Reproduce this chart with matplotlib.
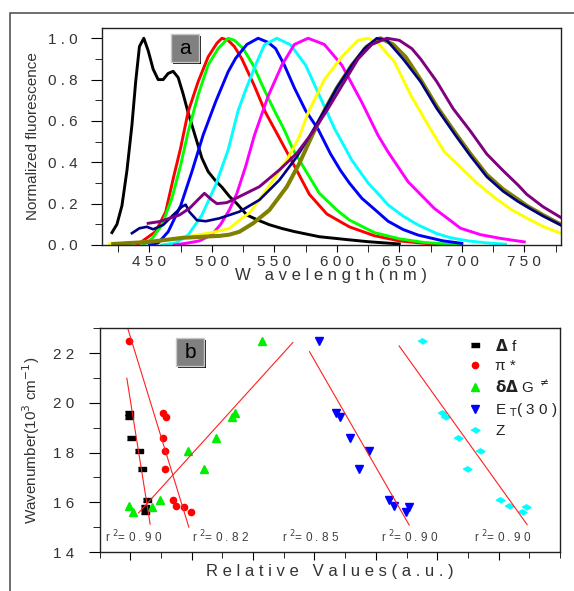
import matplotlib
matplotlib.use("Agg")
import matplotlib.pyplot as plt
from matplotlib.patches import Rectangle
from matplotlib.ticker import MultipleLocator, FuncFormatter, FixedLocator

plt.rcParams["font.family"] = ["Liberation Sans", "DejaVu Sans"]
plt.rcParams["mathtext.fontset"] = "dejavusans"

# ---- panel a: normalized emission spectra (wavelength nm, intensity) ----
black_wl = [420, 424, 428, 432, 436, 439, 442, 445.5, 449, 453, 457, 461, 465, 469, 473,
            477, 481, 487, 492, 497, 503, 508, 514, 520, 528, 537, 546, 556, 566, 586, 610, 625, 650]
black_y = [0.06, 0.10, 0.19, 0.36, 0.58, 0.79, 0.96, 1.0, 0.94, 0.85, 0.80, 0.80, 0.83, 0.84, 0.81,
           0.73, 0.64, 0.52, 0.42, 0.355, 0.31, 0.28, 0.235, 0.20, 0.145, 0.12, 0.098, 0.08, 0.065, 0.04, 0.025, 0.016, 0.005]

red_wl = [440, 447, 455, 463, 469, 475, 481, 489, 497, 504, 508, 513, 518, 524, 534, 543, 552,
          560, 568, 578, 592, 610, 630, 650, 670, 685]
red_y = [0.0, 0.03, 0.065, 0.16, 0.32, 0.47, 0.645, 0.79, 0.91, 0.976, 1.0, 0.99, 0.96, 0.90, 0.77,
         0.64, 0.54, 0.45, 0.36, 0.245, 0.15, 0.088, 0.045, 0.02, 0.008, 0.0]

green_wl = [445, 452, 460, 468, 475, 481, 489, 497, 505, 513, 518, 525, 533, 542, 550, 558, 565,
            573, 586, 600, 610, 630, 650, 670, 700]
green_y = [0.0, 0.03, 0.097, 0.226, 0.387, 0.548, 0.726, 0.871, 0.95, 1.0, 0.99, 0.95, 0.87, 0.75,
           0.65, 0.556, 0.46, 0.38, 0.25, 0.169, 0.121, 0.06, 0.03, 0.012, 0.0]

blue_wl = [450, 457, 465, 475, 484, 493, 503, 513, 519, 528, 537, 545, 551, 558, 566, 575, 585,
           595, 603, 610, 620, 632, 641, 653, 665, 685, 700]
blue_y = [0.0, 0.01, 0.064, 0.19, 0.355, 0.532, 0.693, 0.838, 0.903, 0.97, 1.0, 0.98, 0.95, 0.87,
          0.76, 0.65, 0.56, 0.44, 0.36, 0.30, 0.226, 0.163, 0.115, 0.075, 0.048, 0.02, 0.008]

cyan_wl = [460, 471, 481, 492, 503, 513, 521, 527, 535, 542, 552, 563, 575, 587, 598, 612, 625,
           635, 641, 653, 665, 680, 691, 705, 720, 735]
cyan_y = [0.0, 0.01, 0.048, 0.145, 0.29, 0.46, 0.65, 0.75, 0.871, 0.968, 1.0, 0.968, 0.87, 0.71,
          0.565, 0.41, 0.30, 0.235, 0.194, 0.14, 0.097, 0.055, 0.035, 0.02, 0.01, 0.004]

mag_wl = [470, 481, 490, 500, 507, 514, 520, 527, 534, 545, 556, 566, 577, 590, 604, 612, 620,
          633, 641, 657, 678, 699, 715, 731, 750]
mag_y = [0.0, 0.01, 0.02, 0.05, 0.10, 0.17, 0.25, 0.38, 0.53, 0.72, 0.87, 0.97, 1.0, 0.97, 0.87,
         0.78, 0.69, 0.53, 0.45, 0.306, 0.177, 0.081, 0.05, 0.032, 0.015]

yel_wl = [418, 440, 460, 480, 500, 514, 522, 530, 538, 549, 560, 570, 577, 590, 604, 617, 625,
          633, 646, 659, 673, 686, 700, 712, 725, 740, 752, 765, 779]
yel_y = [0.005, 0.012, 0.022, 0.04, 0.06, 0.08, 0.12, 0.155, 0.218, 0.314, 0.411, 0.524, 0.64,
         0.80, 0.91, 0.99, 1.0, 0.976, 0.887, 0.726, 0.58, 0.451, 0.37, 0.30, 0.235, 0.17, 0.13, 0.09, 0.057]

olive_wl = [421, 450, 477, 506, 514, 522, 533, 546, 560, 570, 581, 590, 600, 612, 624, 635, 645,
            655, 667, 680, 695, 707, 720, 733, 745, 752, 765, 779]
olive_y = [0.005, 0.015, 0.035, 0.044, 0.05, 0.064, 0.105, 0.169, 0.282, 0.395, 0.54, 0.65, 0.76,
           0.87, 0.96, 1.0, 0.97, 0.91, 0.80, 0.67, 0.54, 0.44, 0.34, 0.27, 0.22, 0.19, 0.145, 0.10]

navy_wl = [436, 442, 448, 453, 461, 469, 476, 479, 482, 488, 495, 506, 522, 538, 554, 568, 578,
           590, 600, 612, 622, 632, 640, 653, 667, 680, 695, 707, 720, 733, 745, 752, 765, 779]
navy_y = [0.057, 0.081, 0.088, 0.076, 0.097, 0.145, 0.185, 0.195, 0.16, 0.12, 0.115, 0.129, 0.161,
          0.218, 0.314, 0.427, 0.524, 0.65, 0.76, 0.87, 0.95, 1.0, 0.99, 0.90, 0.79, 0.66, 0.53,
          0.43, 0.33, 0.26, 0.21, 0.185, 0.14, 0.097]

pur_wl = [449, 458, 466, 474, 482, 490, 494, 500, 504, 512, 522, 538, 554, 568, 581, 592, 605,
          617, 628, 640, 650, 660, 667, 680, 693, 707, 720, 733, 745, 752, 765, 779]
pur_y = [0.105, 0.113, 0.129, 0.145, 0.177, 0.226, 0.25, 0.218, 0.2, 0.205, 0.234, 0.282, 0.363,
         0.444, 0.548, 0.65, 0.78, 0.9, 0.97, 1.0, 0.99, 0.95, 0.90, 0.79, 0.66, 0.55, 0.44, 0.36,
         0.29, 0.245, 0.185, 0.134]

# ---- panel b: wavenumber (10^3 cm-1) vs solvent parameters (relative units) ----
nu = [22.5, 19.6, 19.45, 18.6, 18.05, 17.35, 16.1, 15.85, 15.8, 15.6]
nu_df = [19.6, 19.45, 18.6, 18.05, 17.35, 16.1, 15.8, 15.6]
x_df = [0.97, 0.97, 1.02, 1.29, 1.40, 1.54, 1.48, 1.48]
x_pi = [0.97, 2.06, 2.17, 2.07, 2.13, 2.13, 2.38, 2.48, 2.75, 2.97]
x_dg = [5.29, 4.41, 4.30, 3.78, 2.89, 3.40, 1.97, 0.97, 1.70, 1.10]
x_et = [7.14, 7.71, 7.85, 8.17, 8.79, 8.44, 9.42, 9.60, 10.09, 9.98]
x_z = [10.5, 11.17, 11.26, 11.67, 12.38, 11.98, 13.06, 13.33, 13.88, 13.75]

# linear fit segments (x0, x1, y0, y1)
fits = [(0.89, 1.65, 20.99, 15.12),
        (0.92, 2.91, 23.0, 15.0),
        (1.27, 6.30, 15.57, 22.43),
        (6.84, 10.09, 22.06, 15.08),
        (9.76, 13.93, 22.29, 15.1)]
r2_vals = ["0 . 9 0", "0 . 8 2", "0 . 8 5", "0 . 9 0", "0 . 9 0"]
r2_x = [0.19, 3.01, 5.93, 9.18, 12.2]

W, H = 574, 591
txt = "#333333"

fig = plt.figure(figsize=(W / 100, H / 100), dpi=100)

# outer frame (clipped on right / bottom)
fig.patches.append(Rectangle((10 / W, -0.1), 1.2, 1 - 13 / H + 0.1, transform=fig.transFigure,
                             fill=False, edgecolor="#555555", lw=1.2))

axa = fig.add_axes([101.7 / W, 1 - 245 / H, (561 - 101.7) / W, (245 - 27.7) / H])
axb = fig.add_axes([99.5 / W, 1 - 552 / H, (560 - 99.5) / W, (552 - 328.3) / H])

lw = 2.1
axa.plot(black_wl, black_y, color="black", lw=lw)
axa.plot(red_wl, red_y, color="#ff0000", lw=lw)
axa.plot(green_wl, green_y, color="#00ff00", lw=lw)
axa.plot(blue_wl, blue_y, color="#0000ff", lw=lw)
axa.plot(cyan_wl, cyan_y, color="#00ffff", lw=lw)
axa.plot(mag_wl, mag_y, color="#ff00ff", lw=lw)
axa.plot(yel_wl, yel_y, color="#ffff00", lw=lw)
axa.plot(olive_wl, olive_y, color="#808000", lw=lw + 0.8)
axa.plot(navy_wl, navy_y, color="#000080", lw=lw - 0.2)
axa.plot(pur_wl, pur_y, color="#800080", lw=lw)

axa.set_xlim(411.8, 779.4)
axa.set_ylim(0, 1.051)
axa.xaxis.set_major_locator(MultipleLocator(50))
axa.xaxis.set_minor_locator(MultipleLocator(25))
axa.yaxis.set_major_locator(MultipleLocator(0.2))
axa.yaxis.set_minor_locator(MultipleLocator(0.1))
axa.xaxis.set_major_formatter(FuncFormatter(lambda v, p: " ".join(f"{int(round(v))}")))
axa.yaxis.set_major_formatter(FuncFormatter(lambda v, p: " ".join(f"{v:.1f}")))
axa.tick_params(axis="x", which="both", direction="out", length=5, pad=2, labelsize=11,
                labelcolor=txt)
axa.tick_params(axis="y", which="major", direction="out", length=8, pad=9, labelsize=11, labelcolor=txt)
axa.tick_params(axis="y", which="minor", direction="out", length=5)
axa.set_ylabel("Normalized fluorescence", fontsize=11, color=txt, labelpad=6)
axa.set_xlabel("W   a v e l e n g t h ( n m )", fontsize=12, color=txt)
axa.xaxis.set_label_coords(0.5, -0.105)

# panel b scatter
axb.plot(x_df, nu_df, ls="none", marker=[(-1, -0.5), (1, -0.5), (1, 0.5), (-1, 0.5)], ms=6,
         color="black", label=r"$\mathbf{\Delta}$ f")
axb.plot(x_pi, nu, ls="none", marker="o", ms=4.5, color="#ff0000", label="π *")
axb.plot(x_dg, nu, ls="none", marker="^", ms=6, color="#00ee00", label=r"$\mathbf{\delta\Delta}$ G $^{\neq}$")
axb.plot(x_et, nu, ls="none", marker="v", ms=6, color="#0000ff", label=r"E $_{\mathrm{T}}$( 3 0 )")
axb.plot(x_z, nu, ls="none", marker=[(-1, 0), (0, 0.6), (1, 0), (0, -0.6)], ms=6.5, color="#00ffff",
         label="Z")
for x0, x1, y0, y1 in fits:
    axb.plot([x0, x1], [y0, y1], color="#ff2020", lw=0.8)
for xv, rv in zip(r2_x, r2_vals):
    axb.text(xv, 14.59, "r $^{2}$= " + rv, fontsize=8.5, color="#404040", va="center", ha="left")

axb.set_xlim(0, 15)
axb.set_ylim(14, 23)
axb.xaxis.set_major_locator(FixedLocator(list(range(1, 15, 2))))
axb.xaxis.set_minor_locator(MultipleLocator(1))
axb.xaxis.set_major_formatter(FuncFormatter(lambda v, p: ""))
axb.yaxis.set_major_locator(MultipleLocator(2))
axb.yaxis.set_minor_locator(MultipleLocator(1))
axb.yaxis.set_major_formatter(FuncFormatter(lambda v, p: " ".join(f"{int(round(v))}")))
axb.tick_params(axis="x", which="major", direction="out", length=6)
axb.tick_params(axis="x", which="minor", direction="out", length=4)
axb.tick_params(axis="y", which="major", direction="out", length=8, pad=10, labelsize=11, labelcolor=txt)
axb.tick_params(axis="y", which="minor", direction="out", length=5)
axb.set_ylabel(r"Wavenumber(10$^{3}$ cm$^{-1}$)", fontsize=11, color=txt, labelpad=8)
axb.set_xlabel("R e l a t i v e   V a l u e s ( a . u . )", fontsize=12, color=txt)
axb.xaxis.set_label_coords(0.5, -0.055)

leg = axb.legend(loc="upper left", bbox_to_anchor=(0.77, 1.02), frameon=False, fontsize=11,
                 handlelength=1.0, handletextpad=0.8, labelspacing=0.35, numpoints=1)
for t in leg.get_texts():
    t.set_color("#222222")

for ax in (axa, axb):
    for s in ax.spines.values():
        s.set_linewidth(1.0)
        s.set_color("#222222")

# panel tags "a" and "b"
for (bx, by, lab) in [(171, 34, "a"), (176, 338, "b")]:
    fig.patches.append(Rectangle(((bx + 2) / W, 1 - (by + 30) / H), 28 / W, 28 / H,
                                 transform=fig.transFigure, facecolor="#111111", edgecolor="none"))
    fig.patches.append(Rectangle((bx / W, 1 - (by + 28) / H), 28 / W, 28 / H, transform=fig.transFigure,
                                 facecolor="#808080", edgecolor="#c8c8c8", lw=1))
    fig.text((bx + 14) / W, 1 - (by + 14) / H, lab, fontsize=15, ha="center", va="center", color="black")

fig.savefig("out.png", dpi=100)
